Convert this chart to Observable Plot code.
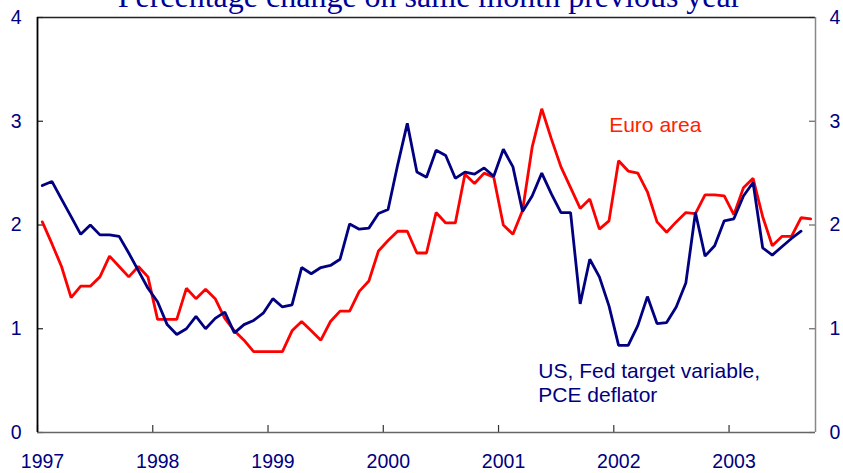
<!DOCTYPE html>
<html><head><meta charset="utf-8">
<script src="https://cdn.jsdelivr.net/npm/d3@7"></script>
<script src="https://cdn.jsdelivr.net/npm/@observablehq/plot@0.6"></script>
<style>
html,body{margin:0;padding:0;background:#fff}
#chart{width:843px;height:473px;overflow:hidden}
</style>
</head><body><div id="chart"></div>
<script>
const title = "Percentage change on same month previous year";
const startYear = 1997;
const yearTicks = [1997, 1998, 1999, 2000, 2001, 2002, 2003];
const valueTicks = [0, 1, 2, 3, 4];
// Monthly, from January 1997
const euroArea = [
  2.03, 1.82, 1.60, 1.30, 1.41, 1.41, 1.50, 1.70, 1.60, 1.50, 1.60, 1.50,
  1.09, 1.09, 1.09, 1.39, 1.29, 1.38, 1.29, 1.10, 0.98, 0.89, 0.78, 0.78,
  0.78, 0.78, 0.98, 1.07, 0.98, 0.89, 1.07, 1.17, 1.17, 1.36, 1.46, 1.75,
  1.85, 1.94, 1.94, 1.73, 1.73, 2.12, 2.02, 2.02, 2.49, 2.40, 2.50, 2.46,
  2.00, 1.91, 2.14, 2.75, 3.12, 2.83, 2.56, 2.36, 2.16, 2.25, 1.96, 2.04,
  2.62, 2.52, 2.50, 2.32, 2.03, 1.93, 2.03, 2.12, 2.11, 2.29, 2.29, 2.28,
  2.10, 2.36, 2.45, 2.08, 1.80, 1.89, 1.89, 2.07, 2.06
];
const usPce = [
  2.38, 2.42, 2.25, 2.08, 1.91, 2.00, 1.905, 1.905, 1.89, 1.73, 1.56, 1.39,
  1.26, 1.04, 0.945, 1.00, 1.12, 1.00, 1.10, 1.16, 0.96, 1.04, 1.08, 1.15,
  1.29, 1.21, 1.23, 1.59, 1.53, 1.59, 1.61, 1.67, 2.01, 1.96, 1.97, 2.11,
  2.15, 2.58, 2.98, 2.51, 2.46, 2.72, 2.67, 2.45, 2.51, 2.49, 2.55, 2.47,
  2.73, 2.56, 2.13, 2.28, 2.50, 2.30, 2.12, 2.12, 1.24, 1.67, 1.50, 1.22,
  0.84, 0.84, 1.03, 1.31, 1.05, 1.06, 1.21, 1.44, 2.12, 1.70, 1.80, 2.04,
  2.06, 2.28, 2.41, 1.78, 1.71, 1.79, 1.87, 1.94
];
const euroLabel = "Euro area";
const usLabel = "US, Fed target variable,\nPCE deflator";

const navy = "#000080";
const red = "#ff0000";
const W = 843, H = 473, mL = 37, mR = 28, mT = 17, mB = 41;
const innerW = W - mL - mR, innerH = H - mT - mB;

const monthX = i => startYear + (i + 0.5) / 12;
const euroRows = euroArea.map((v, i) => ({x: monthX(i), v}));
const usRows = usPce.map((v, i) => ({x: monthX(i), v}));
const xDomain = [startYear, startYear + euroArea.length / 12];
const intFmt = d => String(d);

const chart = Plot.plot({
  width: W, height: H,
  marginLeft: mL, marginRight: mR, marginTop: mT, marginBottom: mB,
  style: {fontFamily: "'Liberation Sans', Arial, sans-serif", background: "#fff", overflow: "hidden"},
  x: {type: "linear", domain: xDomain},
  y: {domain: [0, 4]},
  marks: [
    Plot.axisX(yearTicks, {anchor: "bottom", tickSize: 0, tickPadding: 22, tickFormat: intFmt, fontSize: 19.5, fill: navy, dx: 5, label: null}),
    Plot.axisY(valueTicks, {anchor: "left", tickSize: 0, tickPadding: 16, tickFormat: intFmt, fontSize: 19.5, fill: navy, label: null}),
    Plot.axisY(valueTicks, {anchor: "right", tickSize: 0, tickPadding: 14, tickFormat: intFmt, fontSize: 19.5, fill: navy, label: null}),
    Plot.ruleY(valueTicks, {insetRight: innerW - 6, stroke: "#222", strokeWidth: 1.2}),
    Plot.ruleY(valueTicks, {insetLeft: innerW - 6, stroke: "#666", strokeWidth: 1.2}),
    Plot.ruleX(yearTicks, {insetTop: innerH - 7, stroke: "#333", strokeWidth: 1.2}),
    Plot.ruleY([valueTicks[valueTicks.length - 1]], {stroke: "#222", strokeWidth: 1.5}),
    Plot.ruleY([valueTicks[0]], {stroke: "#666", strokeWidth: 1.5}),
    Plot.ruleX([xDomain[1]], {stroke: "#888", strokeWidth: 1.5}),
    Plot.ruleX([xDomain[0]], {stroke: "#000", strokeWidth: 1.8}),
    Plot.line(euroRows, {x: "x", y: "v", stroke: red, strokeWidth: 2.8, strokeLinejoin: "miter"}),
    Plot.line(usRows, {x: "x", y: "v", stroke: navy, strokeWidth: 2.8, strokeLinejoin: "miter"}),
    Plot.text([euroLabel], {x: 2001.96, y: 2.96, text: d => d, textAnchor: "start", lineAnchor: "middle", fontSize: 21, fill: "#ff2200"}),
    Plot.text([usLabel], {x: 2001.345, y: 0.48, text: d => d, textAnchor: "start", lineAnchor: "middle", lineHeight: 1.14, fontSize: 21, fill: navy}),
    Plot.text([title], {frameAnchor: "top", dy: -11, dx: 3, text: d => d, lineAnchor: "bottom", fontSize: 32, fontFamily: "'Liberation Serif', 'Times New Roman', serif", fill: "#000099"})
  ]
});
document.getElementById("chart").appendChild(chart);
</script>
</body></html>
